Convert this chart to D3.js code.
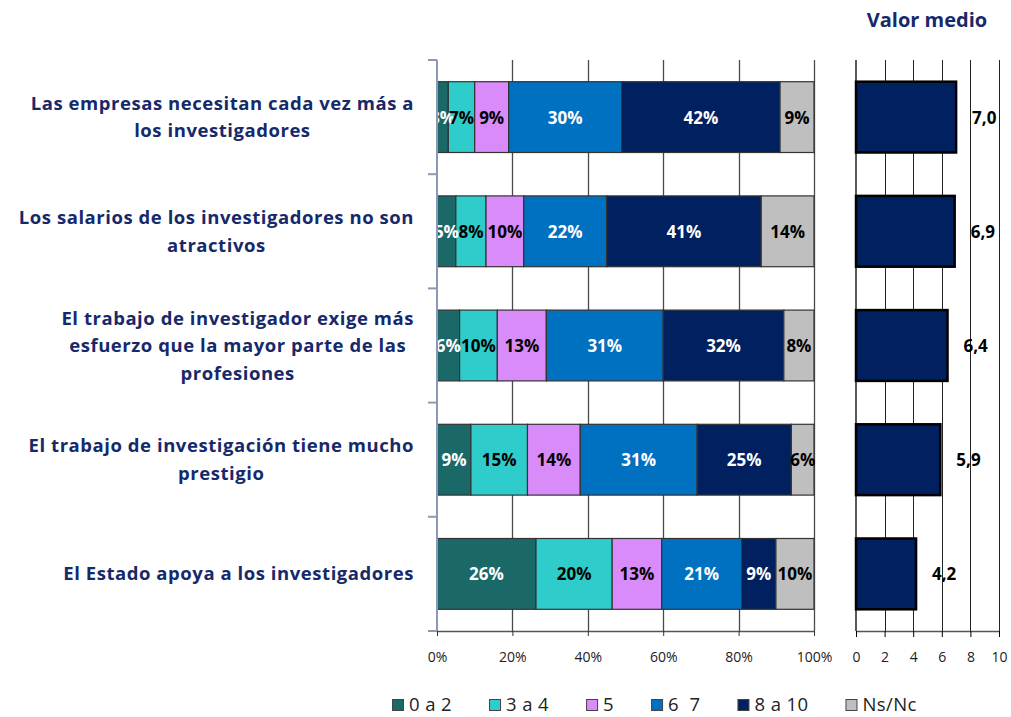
<!DOCTYPE html>
<html><head><meta charset="utf-8">
<script src="https://cdn.jsdelivr.net/npm/d3@7"></script>
<style>
html,body{margin:0;padding:0;background:#fff;}
svg{display:block;}
</style></head>
<body>
<svg id="chart" width="1011" height="717"></svg>
<script>
// ---------- DATA ----------
const categories = [
  "Las empresas necesitan cada vez más a\nlos investigadores",
  "Los salarios de los investigadores no son\natractivos",
  "El trabajo de investigador exige más\nesfuerzo que la mayor parte de las\nprofesiones",
  "El trabajo de investigación tiene mucho\nprestigio",
  "El Estado apoya a los investigadores"
];
const seriesNames = ["0 a 2", "3 a 4", "5", "6  7", "8 a 10", "Ns/Nc"];
const s0a2   = [3, 5, 6, 9, 26];
const s3a4   = [7, 8, 10, 15, 20];
const s5     = [9, 10, 13, 14, 13];
const s6a7   = [30, 22, 31, 31, 21];
const s8a10  = [42, 41, 32, 25, 9];
const sNsNc  = [9, 14, 8, 6, 10];
const meanValues = [7.0, 6.9, 6.4, 5.9, 4.2];
const pctTicks = [0, 0.2, 0.4, 0.6, 0.8, 1];
const meanTicks = [0, 2, 4, 6, 8, 10];
const chartTitle = "Valor medio";

// ---------- STYLE ----------
const colors = ["#1A6868", "#2ECDCB", "#D98BF9", "#0070C0", "#002060", "#BFBFBF"];
const labelColors = ["#fff", "#000", "#000", "#fff", "#fff", "#000"];
const navy = "#16296A";
const font = "'Open Sans', sans-serif";

const svg = d3.select("#chart");
const plotTop = 60, plotBottom = 631;
const L = {x0: 437, x1: 814};
const R = {x0: 856, x1: 999};

const seriesArrays = [s0a2, s3a4, s5, s6a7, s8a10, sNsNc];
const rows = categories.map((c, i) => {
  const o = {cat: c};
  seriesNames.forEach((s, j) => o[s] = seriesArrays[j][i]);
  return o;
});
const stacked = d3.stack().keys(seriesNames).offset(d3.stackOffsetExpand)(rows);

const y = d3.scaleBand().domain(categories).range([plotTop, plotBottom]).paddingInner(0.38).paddingOuter(0.19);
const xL = d3.scaleLinear().domain([0, 1]).range([L.x0, L.x1]);
const xR = d3.scaleLinear().domain([0, 10]).range([R.x0, R.x1]);

// gridlines left
svg.append("g").selectAll("line").data(pctTicks.slice(1)).join("line")
  .attr("x1", d => Math.round(xL(d)) + 0.5).attr("x2", d => Math.round(xL(d)) + 0.5)
  .attr("y1", plotTop).attr("y2", plotBottom)
  .attr("stroke", "#4a4a4a").attr("stroke-width", 1.3);

// gridlines right
svg.append("g").selectAll("line").data(meanTicks.slice(1)).join("line")
  .attr("x1", d => Math.round(xR(d)) + 0.5).attr("x2", d => Math.round(xR(d)) + 0.5)
  .attr("y1", plotTop).attr("y2", plotBottom)
  .attr("stroke", "#222").attr("stroke-width", 1);

// stacked bars
const gS = svg.append("g");
stacked.forEach((layer, j) => {
  gS.append("g").selectAll("rect").data(layer).join("rect")
    .attr("x", d => xL(d[0])).attr("width", d => xL(d[1]) - xL(d[0]))
    .attr("y", (d, i) => y(categories[i])).attr("height", y.bandwidth())
    .attr("fill", colors[j]).attr("stroke", "#333").attr("stroke-width", 1.2);
});
stacked.forEach((layer, j) => {
  gS.append("g").selectAll("text").data(layer).join("text")
    .attr("x", d => (xL(d[0]) + xL(d[1])) / 2)
    .attr("y", (d, i) => y(categories[i]) + y.bandwidth() / 2 + 6.5)
    .attr("text-anchor", "middle")
    .attr("font-family", font).attr("font-weight", 700).attr("font-size", 17)
    .attr("fill", labelColors[j])
    .text((d, i) => seriesArrays[j][i] + "%");
});

// left axis (category)
const axisCol = "#8D98B5";
svg.append("line").attr("x1", L.x0).attr("x2", L.x0).attr("y1", plotTop).attr("y2", plotBottom)
  .attr("stroke", axisCol).attr("stroke-width", 2);
const bounds = categories.map(c => y(c) - y.step() * y.paddingInner() / 2);
bounds[0] = plotTop;
bounds.push(plotBottom);
svg.append("g").selectAll("line").data(bounds).join("line")
  .attr("x1", L.x0 - 9).attr("x2", L.x0).attr("y1", d => d).attr("y2", d => d)
  .attr("stroke", axisCol).attr("stroke-width", 2);

// bottom axis left
const axL = d3.axisBottom(xL).tickValues(pctTicks).tickFormat(d => Math.round(d * 100) + "%").tickSize(5).tickSizeOuter(0);
const gAL = svg.append("g").attr("transform", `translate(0,${plotBottom})`).call(axL);
gAL.select(".domain").attr("stroke", "#555").attr("stroke-width", 1.3);
gAL.selectAll(".tick line").attr("stroke", "#333");
gAL.selectAll("text").attr("font-family", font).attr("font-size", 14).attr("fill", "#222").attr("y", 31).attr("dy", null);

// right panel bars
svg.append("g").selectAll("rect").data(meanValues).join("rect")
  .attr("x", xR(0)).attr("width", d => xR(d) - xR(0))
  .attr("y", (d, i) => y(categories[i])).attr("height", y.bandwidth())
  .attr("fill", "#002060").attr("stroke", "#000").attr("stroke-width", 2.5);
svg.append("g").selectAll("text").data(meanValues).join("text")
  .attr("x", d => xR(d) + 16)
  .attr("y", (d, i) => y(categories[i]) + y.bandwidth() / 2 + 6.5)
  .attr("font-family", font).attr("font-weight", 700).attr("font-size", 17).attr("fill", "#000")
  .text(d => d.toFixed(1).replace(".", ","));

// right axis
svg.append("line").attr("x1", R.x0).attr("x2", R.x0).attr("y1", plotTop).attr("y2", plotBottom).attr("stroke", "#000").attr("stroke-width", 1.3);
const axR = d3.axisBottom(xR).tickValues(meanTicks).tickSize(6).tickSizeOuter(0);
const gAR = svg.append("g").attr("transform", `translate(0,${plotBottom})`).call(axR);
gAR.select(".domain").attr("stroke", "#555").attr("stroke-width", 1.3);
gAR.selectAll(".tick line").attr("stroke", "#000");
gAR.selectAll("text").attr("font-family", font).attr("font-size", 14).attr("fill", "#222").attr("y", 31).attr("dy", null);

// title
svg.append("text").attr("x", 927).attr("y", 27).attr("text-anchor", "middle")
  .attr("font-family", font).attr("font-weight", 700).attr("font-size", 20).attr("fill", navy)
  .text(chartTitle);

// category labels: block right-aligned at 414, lines centered within block
const lineH = 27.5;
const gC = svg.append("g");
categories.forEach(c => {
  const lines = c.split("\n");
  const t = gC.append("text").attr("font-family", font).attr("font-weight", 700).attr("font-size", 18.5)
    .attr("letter-spacing", 0.55).attr("fill", navy).attr("text-anchor", "middle");
  const spans = lines.map(l => t.append("tspan").text(l));
  const maxW = d3.max(spans, s => s.node().getComputedTextLength());
  const cx = 414 - maxW / 2;
  const cy = y(c) + y.bandwidth() / 2;
  spans.forEach((s, k) => s.attr("x", cx).attr("y", cy + (k - (lines.length - 1) / 2) * lineH + 6.5));
});

// legend
const gLeg = svg.append("g");
let lx = 392;
const ly = 711;
seriesNames.forEach((s, j) => {
  gLeg.append("rect").attr("x", lx + 0.5).attr("y", ly - 11.5).attr("width", 11).attr("height", 11)
    .attr("fill", colors[j]).attr("stroke", "#444").attr("stroke-width", 1);
  const t = gLeg.append("text").attr("x", lx + 17).attr("y", ly)
    .style("white-space", "pre").attr("letter-spacing", 0.4)
    .attr("font-family", font).attr("font-size", 18.5).attr("fill", "#222").text(s);
  lx += 17 + t.node().getComputedTextLength() + 37;
});
</script>
</body></html>
